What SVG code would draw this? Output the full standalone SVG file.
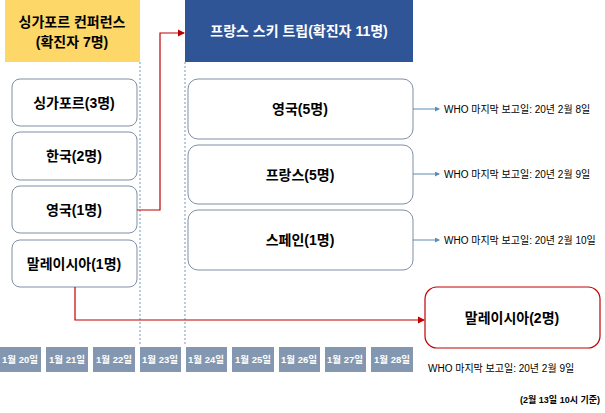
<svg xmlns="http://www.w3.org/2000/svg" width="605" height="413" viewBox="0 0 605 413">
<style>
text{font-family:"Liberation Sans","Noto Sans CJK KR",sans-serif}
.box{fill:#fff;stroke:#7f8fa6;stroke-width:1}
.lbl{font-size:14px;font-weight:bold;fill:#000;text-anchor:middle}
.date{fill:#8497b0}
.dt{font-size:9.5px;font-weight:bold;fill:#fff;text-anchor:middle}
.who{font-size:10px;fill:#000}
.dot{stroke:#8eaacb;stroke-width:1.2;stroke-dasharray:2,2;fill:none}
.red{stroke:#c00000;stroke-width:1.2;fill:none}
.blue{stroke:#5b8db8;stroke-width:1;fill:none}
</style>
<defs>
<marker id="ar" markerWidth="6" markerHeight="6" refX="5" refY="3" orient="auto"><path d="M0,0 L6,3 L0,6z" fill="#c00000"/></marker>
<marker id="ab" markerWidth="5" markerHeight="5" refX="4" refY="2.5" orient="auto"><path d="M0,0 L5,2.5 L0,5z" fill="#5b8db8"/></marker>
</defs>
<line class="dot" x1="140" y1="62" x2="140" y2="345"/>
<line class="dot" x1="185" y1="62" x2="185" y2="345"/>
<g id="sg-header"><rect x="5" y="0" width="135" height="62" fill="#fdd767"/>
<text class="lbl" x="72" y="27">싱가포르 컨퍼런스</text><text class="lbl" x="72" y="47">(확진자 7명)</text></g>
<g id="fr-header"><rect x="185" y="0" width="228" height="62" fill="#2f5597"/>
<text class="lbl" x="299" y="36" fill="#fff" style="fill:#fff">프랑스 스키 트립(확진자 11명)</text></g>
<g id="sg1"><rect class="box" x="12" y="79" width="125" height="47" rx="8"/><text class="lbl" x="74" y="108">싱가포르(3명)</text></g>
<g id="kr"><rect class="box" x="12" y="132" width="125" height="48" rx="8"/><text class="lbl" x="74" y="161">한국(2명)</text></g>
<g id="uk1"><rect class="box" x="12" y="186" width="125" height="47" rx="8"/><text class="lbl" x="74" y="215">영국(1명)</text></g>
<g id="my1"><rect class="box" x="12" y="240" width="125" height="47" rx="8"/><text class="lbl" x="74" y="269">말레이시아(1명)</text></g>
<g id="uk5"><rect class="box" x="188" y="79" width="225" height="60" rx="10"/><text class="lbl" x="300" y="114">영국(5명)</text></g>
<g id="fr5"><rect class="box" x="188" y="145" width="225" height="59" rx="10"/><text class="lbl" x="300" y="180">프랑스(5명)</text></g>
<g id="es1"><rect class="box" x="188" y="210" width="225" height="60" rx="10"/><text class="lbl" x="300" y="245">스페인(1명)</text></g>
<g id="my2"><rect x="425" y="287" width="175" height="61" rx="12" fill="#fff" stroke="#c00000" stroke-width="1.2"/><text class="lbl" x="512" y="323">말레이시아(2명)</text></g>
<g id="connectors">
<polyline class="red" points="137,210 160,210 160,33 184,33" marker-end="url(#ar)"/>
<polyline class="red" points="75,287 75,320 424,320" marker-end="url(#ar)"/>
<line class="blue" x1="413" y1="109" x2="439" y2="109" marker-end="url(#ab)"/>
<line class="blue" x1="413" y1="174" x2="439" y2="174" marker-end="url(#ab)"/>
<line class="blue" x1="413" y1="240" x2="439" y2="240" marker-end="url(#ab)"/>
</g>
<text class="who" x="444" y="113">WHO 마지막 보고일: 20년 2월 8일</text>
<text class="who" x="444" y="178">WHO 마지막 보고일: 20년 2월 9일</text>
<text class="who" x="444" y="244">WHO 마지막 보고일: 20년 2월 10일</text>
<text class="who" x="428" y="372">WHO 마지막 보고일: 20년 2월 9일</text>
<text x="600" y="403" font-size="9" font-weight="bold" text-anchor="end">(2월 13일 10시 기준)</text>
<g id="dates">
<rect class="date" x="0" y="347" width="41" height="25"/><text class="dt" x="20" y="363">1월 20일</text>
<rect class="date" x="46" y="347" width="42" height="25"/><text class="dt" x="67" y="363">1월 21일</text>
<rect class="date" x="93" y="347" width="42" height="25"/><text class="dt" x="114" y="363">1월 22일</text>
<rect class="date" x="140" y="347" width="41" height="25"/><text class="dt" x="160" y="363">1월 23일</text>
<rect class="date" x="186" y="347" width="41" height="25"/><text class="dt" x="206" y="363">1월 24일</text>
<rect class="date" x="232" y="347" width="42" height="25"/><text class="dt" x="253" y="363">1월 25일</text>
<rect class="date" x="279" y="347" width="41" height="25"/><text class="dt" x="299" y="363">1월 26일</text>
<rect class="date" x="325" y="347" width="41" height="25"/><text class="dt" x="345" y="363">1월 27일</text>
<rect class="date" x="371" y="347" width="42" height="25"/><text class="dt" x="392" y="363">1월 28일</text>
</g>
</svg>
